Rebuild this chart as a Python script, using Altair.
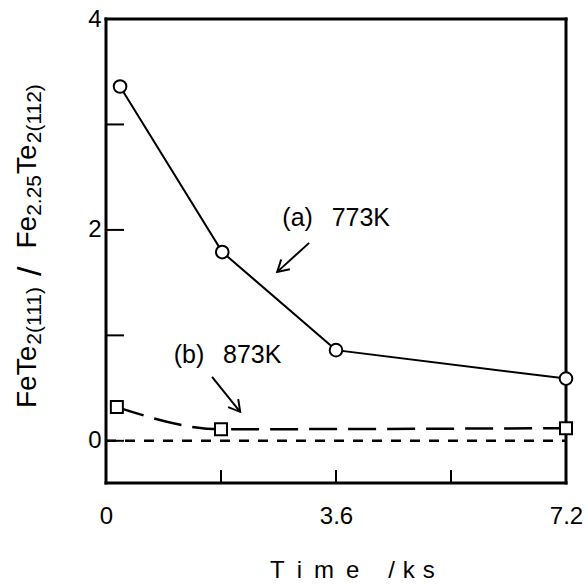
import math
import altair as alt
import pandas as pd

# ---------------- data ----------------
circle_time = [0.22, 1.82, 3.6, 7.2]          # (a) 773K
circle_ratio = [3.36, 1.79, 0.86, 0.59]
square_time = [0.17, 1.8, 7.2]                # (b) 873K
square_ratio = [0.32, 0.11, 0.12]
zero_time = [0.0, 7.2]
zero_ratio = [0.0, 0.0]

y_tick_values = [0, 1, 2, 3]
x_tick_values = [1.8, 3.6, 5.4]
y_label_values = [0, 2, 4]
x_label_values = [0, 3.6, 7.2]

note_text = ["(a)\u2002\u2005773K", "(b)\u2002\u2005873K"]
note_time = [2.76, 1.06]
note_ratio = [2.04, 0.74]
arrow_start_time = [3.18, 1.66]
arrow_start_ratio = [1.877, 0.607]
arrow_end_time = [2.68, 2.10]
arrow_end_ratio = [1.602, 0.275]

# y-axis title pieces (main text / subscripts), laid out bottom to top
ytitle_text = ["FeTe", "2(111)", "/", "Fe", "2.25", "Te", "2(112)"]
ytitle_size = [28, 21, 34, 28, 21, 28, 21]
ytitle_gap_after = [-2, 8, 18, 0, 1, -2, 0]
ytitle_base = [36, 41, 41, 36, 41, 36, 41]            # page x of baseline
YTITLE_START = 408                                    # page y where title starts
xtitle_text = ["T\u2002i\u2002m\u2002e\u2002\u2002\u2009/\u2004k\u2004s"]

# ---------------- layout ----------------
PAD_L, PAD_T, PAD_R, PAD_B = 106, 19, 22, 103
W, H = 460, 464
X_DOM = [0, 7.2]
Y_DOM = [-0.4, 4.0]
FONT = "Liberation Sans"

# approximate advance widths (em) of Liberation Sans
ADV = {"F": 0.611, "e": 0.556, "T": 0.611, "(": 0.333, ")": 0.333, ".": 0.278, "/": 0.278}
for d in "0123456789":
    ADV[d] = 0.556

ytitle_py = []
pos = YTITLE_START
for piece, fs, gap in zip(ytitle_text, ytitle_size, ytitle_gap_after):
    ytitle_py.append(pos)
    pos -= sum(ADV[c] for c in piece) * fs + gap

xs = alt.Scale(domain=X_DOM, nice=False, zero=False)
ys = alt.Scale(domain=Y_DOM, nice=False, zero=False)
xaxis = alt.Axis(values=x_label_values, format=".1~f", ticks=False, tickSize=0, domain=False,
                 grid=False, title=None, labelFont=FONT, labelFontSize=24, labelColor="black",
                 labelPadding=21, labelFlush=False)
yaxis = alt.Axis(values=y_label_values, format="d", ticks=False, tickSize=0, domain=False,
                 grid=False, title=None, labelFont=FONT, labelFontSize=24, labelColor="black",
                 labelPadding=5)

X = lambda: alt.X("time:Q", scale=xs, axis=xaxis)
Y = lambda: alt.Y("ratio:Q", scale=ys, axis=yaxis)

one = pd.DataFrame({"k": [0]})

# frame
frame = [
    alt.Chart(one).mark_rule(color="black", strokeWidth=3, strokeCap="square").encode(
        x=alt.value(0), x2=alt.value(W), y=alt.value(0)),
    alt.Chart(one).mark_rule(color="black", strokeWidth=3, strokeCap="square").encode(
        x=alt.value(0), x2=alt.value(W), y=alt.value(H)),
    alt.Chart(one).mark_rule(color="black", strokeWidth=3, strokeCap="square").encode(
        x=alt.value(0), y=alt.value(0), y2=alt.value(H)),
    alt.Chart(one).mark_rule(color="black", strokeWidth=3, strokeCap="square").encode(
        x=alt.value(W), y=alt.value(0), y2=alt.value(H)),
]

ytick_df = pd.DataFrame({"ratio": y_tick_values})
xtick_df = pd.DataFrame({"time": x_tick_values})
yticks = alt.Chart(ytick_df).mark_rule(color="black", strokeWidth=2).encode(
    y=Y(), x=alt.value(0), x2=alt.value(18))
xticks = alt.Chart(xtick_df).mark_rule(color="black", strokeWidth=2).encode(
    x=X(), y=alt.value(H), y2=alt.value(H - 13))

zero_df = pd.DataFrame({"time": zero_time, "ratio": zero_ratio})
zero_line = alt.Chart(zero_df).mark_line(color="black", strokeWidth=2.5, strokeDash=[10, 9]).encode(
    x=X(), y=Y())

sq_df = pd.DataFrame({"time": square_time, "ratio": square_ratio})
ci_df = pd.DataFrame({"time": circle_time, "ratio": circle_ratio})

line_b = alt.Chart(sq_df).mark_line(color="black", strokeWidth=2.5, strokeDash=[28, 11],
                                    interpolate="monotone").encode(x=X(), y=Y())
line_a = alt.Chart(ci_df).mark_line(color="black", strokeWidth=2).encode(x=X(), y=Y())

# arrows
px_x = W / (X_DOM[1] - X_DOM[0])
px_y = H / (Y_DOM[1] - Y_DOM[0])
angles = []
for t0, r0, t1, r1 in zip(arrow_start_time, arrow_start_ratio, arrow_end_time, arrow_end_ratio):
    dx = (t1 - t0) * px_x
    dy = -(r1 - r0) * px_y
    angles.append(math.degrees(math.atan2(dy, dx)) % 360)

shaft_df = pd.DataFrame({"time": arrow_start_time, "ratio": arrow_start_ratio,
                         "time2": arrow_end_time, "ratio2": arrow_end_ratio})
shafts = alt.Chart(shaft_df).mark_rule(color="black", strokeWidth=2).encode(
    x=X(), y=Y(), x2="time2:Q", y2="ratio2:Q")
head_df = pd.DataFrame({"time": arrow_end_time, "ratio": arrow_end_ratio, "angle": angles})
heads = alt.Chart(head_df).mark_point(shape="M -1 -0.58 L 0 0 L -1 0.58", filled=False,
                                      stroke="black", strokeWidth=2, size=500, opacity=1).encode(
    x=X(), y=Y(), angle=alt.Angle("angle:Q", scale=None))

squares = alt.Chart(sq_df).mark_point(shape="square", filled=True, fill="white", stroke="black",
                                      strokeWidth=2, size=144, opacity=1).encode(x=X(), y=Y())
circles = alt.Chart(ci_df).mark_point(shape="circle", filled=True, fill="white", stroke="black",
                                      strokeWidth=2, size=160, opacity=1).encode(x=X(), y=Y())

note_df = pd.DataFrame({"time": note_time, "ratio": note_ratio, "label": note_text})
notes = alt.Chart(note_df).mark_text(align="left", baseline="alphabetic", font=FONT,
                                     fontSize=25, color="black").encode(x=X(), y=Y(), text="label:N")

# axis titles
yt_df = pd.DataFrame({"label": ytitle_text,
                      "fs": ytitle_size,
                      "px": [b - PAD_L for b in ytitle_base],
                      "py": [s - PAD_T for s in ytitle_py]})
ytitle = alt.Chart(yt_df).mark_text(align="left", baseline="alphabetic", angle=270, font=FONT,
                                    color="black").encode(
    x=alt.X("px:Q", scale=None), y=alt.Y("py:Q", scale=None),
    size=alt.Size("fs:Q", scale=None, legend=None), text="label:N")

xt_df = pd.DataFrame({"label": xtitle_text, "px": [270 - PAD_L], "py": [578 - PAD_T]})
xtitle = alt.Chart(xt_df).mark_text(align="left", baseline="alphabetic", font=FONT, fontSize=24,
                                    color="black").encode(
    x=alt.X("px:Q", scale=None), y=alt.Y("py:Q", scale=None), text="label:N")

chart = alt.layer(
    *frame, yticks, xticks, zero_line, line_b, line_a, shafts, heads, squares, circles,
    notes, ytitle, xtitle
).properties(
    width=W, height=H,
    autosize=alt.AutoSizeParams(type="none"),
    padding={"left": PAD_L, "top": PAD_T, "right": PAD_R, "bottom": PAD_B},
    background="white",
).configure_view(stroke=None)

chart.save("out.html", embed_options={"renderer": "svg", "actions": False})
